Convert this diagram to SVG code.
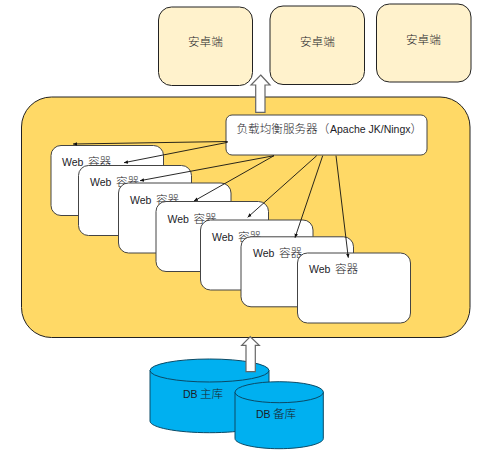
<svg xmlns="http://www.w3.org/2000/svg" width="479" height="459" viewBox="0 0 479 459">
<style>
text{font-family:"Liberation Sans","Noto Sans CJK SC",sans-serif;font-size:10.500px;fill:#1c1c28}
.cjk{font-size:11.600px;font-family:"Noto Sans CJK SC","Liberation Sans",sans-serif;font-weight:300}
.client{fill:#FFF2CC;stroke:#222;stroke-width:1}
.web{fill:#fff;stroke:#444;stroke-width:1}
.db{fill:#00B0F0;stroke:#0b4a66;stroke-width:1}
.up{fill:#fff;stroke:#666;stroke-width:1.2}
.link{stroke:#111;stroke-width:.9;fill:none;marker-end:url(#tip)}
</style>
<defs>
<marker id="tip" markerUnits="userSpaceOnUse" markerWidth="5" markerHeight="5" refX="4" refY="2" orient="auto"><path d="M0 0.200L4 2L0 3.800Z" fill="#111"/></marker>
</defs>
<rect width="479" height="459" fill="#fff"/>
<g id="client-1"><rect class="client" x="158.500" y="7" width="94" height="78.500" rx="13"/><text class="cjk" x="188" y="46">安卓端</text></g>
<g id="client-2"><rect class="client" x="270" y="6" width="94.500" height="78.500" rx="13"/><text class="cjk" x="300" y="45.500">安卓端</text></g>
<g id="client-3"><rect class="client" x="376.500" y="4" width="94.500" height="78" rx="13"/><text class="cjk" x="406" y="43.500">安卓端</text></g>
<g id="cluster"><rect x="21.500" y="97" width="448.500" height="240.500" rx="30" fill="#FFD966" stroke="#222" stroke-width="1"/></g>
<g id="balancer"><rect class="web" x="226" y="115" width="201" height="40" rx="6"/><text x="236.500" y="133"><tspan class="cjk">负载均衡服务器（</tspan><tspan x="330">Apache JK/Ningx</tspan><tspan class="cjk">）</tspan></text></g>
<g id="web-1"><rect class="web" x="51" y="145.500" width="112.500" height="70" rx="10"/><text x="62" y="166">Web <tspan class="cjk" x="88">容器</tspan></text></g>
<g id="web-2"><rect class="web" x="78.500" y="165.500" width="113" height="70" rx="10"/><text x="90" y="186">Web <tspan class="cjk" x="116">容器</tspan></text></g>
<g id="web-3"><rect class="web" x="118.500" y="183" width="112.500" height="70" rx="10"/><text x="130" y="203.500">Web <tspan class="cjk" x="156">容器</tspan></text></g>
<g id="web-4"><rect class="web" x="156" y="201.500" width="112.500" height="70" rx="10"/><text x="167.500" y="222.500">Web <tspan class="cjk" x="193.500">容器</tspan></text></g>
<g id="web-5"><rect class="web" x="200.500" y="220" width="112.500" height="70" rx="10"/><text x="212" y="241">Web <tspan class="cjk" x="238">容器</tspan></text></g>
<g id="web-6"><rect class="web" x="241" y="236.800" width="112.500" height="70" rx="10"/><text x="253" y="257">Web <tspan class="cjk" x="279">容器</tspan></text></g>
<g id="web-7"><rect class="web" x="297.500" y="253" width="113" height="70" rx="10"/><text x="309" y="273">Web <tspan class="cjk" x="335">容器</tspan></text></g>
<g id="db-main"><path class="db" d="M150 370.500V421C150 427.500 176.500 432.700 209.500 432.700S269 427.500 269 421V370.500"/><ellipse class="db" cx="209.500" cy="370.500" rx="59.500" ry="11.500"/><text x="183" y="398">DB <tspan class="cjk" x="200">主库</tspan></text></g>
<g id="db-backup"><path class="db" d="M235 392V438.500C235 444 255 448.700 279 448.700S323.300 444 323.300 438.500V392"/><ellipse class="db" cx="279.200" cy="392.200" rx="44.200" ry="10.500"/><text x="256" y="417.500">DB <tspan class="cjk" x="273">备库</tspan></text></g>
<g id="connectors">
<path class="up" d="M260.700 75L270 85H265V112.300H255.700V85H251Z"/>
<path class="up" d="M250.300 336.700L259.300 345.300H255.300V371.700H246V345.300H241.700Z"/>
<line class="link" x1="227.700" y1="141.500" x2="73" y2="144"/>
<line class="link" x1="227.700" y1="142.300" x2="124" y2="162.700"/>
<line class="link" x1="274" y1="155.700" x2="140" y2="180.700"/>
<line class="link" x1="274" y1="155.700" x2="194" y2="201"/>
<line class="link" x1="316.700" y1="155.700" x2="247.700" y2="217.300"/>
<line class="link" x1="322.700" y1="155.700" x2="295" y2="237.700"/>
<line class="link" x1="336" y1="155.700" x2="348.300" y2="257.700"/>
</g>
</svg>
